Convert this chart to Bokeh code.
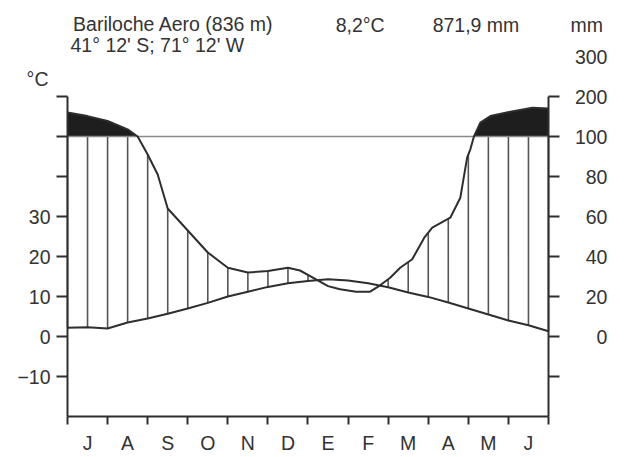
import numpy as np
from bokeh.plotting import figure
from bokeh.models import (ColumnDataSource, FixedTicker, LinearAxis, Range1d)
from bokeh.core.properties import value
from bokeh.embed import file_html
from bokeh.resources import INLINE

# ---------------- data ----------------
station = "Bariloche Aero (836 m)"
coords = "41° 12' S; 71° 12' W"
mean_temp = "8,2°C"
annual_precip = "871,9 mm"
month_labels = ["J", "A", "S", "O", "N", "D", "E", "F", "M", "A", "M", "J"]

# temperature (°C) read every half month from July 1 to June 30
temp_c = [2.2, 2.3, 2.0, 3.5, 4.5, 5.7, 7.0, 8.4, 10.0, 11.2, 12.4, 13.3,
          13.9, 14.3, 14.0, 13.3, 12.3, 11.0, 9.9, 8.5, 7.0, 5.5, 4.0, 2.8, 1.3]

# precipitation trace (mm), month position since July 1
precip_month = [0, 0.5, 1, 1.5, 1.75, 2, 2.25, 2.5, 3, 3.5, 4, 4.5, 5, 5.5,
                5.8, 6.2, 6.5, 6.8, 7.2, 7.55, 7.8, 8.05, 8.3, 8.6, 8.9, 9.1,
                9.55, 9.8, 9.97, 10.05, 10.14, 10.3, 10.55, 11.05, 11.6, 12]
precip_mm = [160, 151, 139, 118, 100, 91, 81, 64, 53, 42, 34.4, 32, 32.7, 34.4,
             33, 28.6, 25.2, 23.6, 22.4, 22.4, 25.6, 29.4, 34.4, 38.6, 49.4, 54.4,
             59.4, 69.4, 89.4, 93.6, 100, 134.5, 151, 162, 172, 170]

temp_ticks = [-10, 0, 10, 20, 30, 40, 50, 60]
temp_labels = {-10: "\u221210", 0: "0", 10: "10", 20: "20", 30: "30",
               40: "", 50: "", 60: ""}
mm_ticks = [0, 20, 40, 60, 80, 100, 200]
mm_labels = [0, 20, 40, 60, 80, 100, 200, 300]


def mm_to_axis(mm):
    mm = np.asarray(mm, dtype=float)
    return np.where(mm <= 100, mm / 2.0, 50 + (mm - 100) / 10.0)


FONT = "Liberation Sans"
FS = "19.5px"
TXT = "#333333"
LINE = "#2e2e2e"

W, H = 628, 457
# frame spans the whole canvas; axes are placed at fixed data locations
p = figure(width=W, height=H, output_backend="svg", toolbar_location=None,
           x_range=Range1d(-67 / 40.083, 12 + 80 / 40.083),
           y_range=Range1d(-30.25, 84.0),
           x_axis_type=None, y_axis_type=None,
           min_border_left=0, min_border_right=0, min_border_top=0,
           min_border_bottom=0)
p.outline_line_color = None
p.background_fill_color = "white"
p.border_fill_color = "white"

half = np.arange(len(temp_c)) / 2.0
p_axis = mm_to_axis(precip_mm)

# humid-season fill above 100 mm
p.varea(x=precip_month, y1=np.full(len(precip_month), 50.0),
        y2=np.maximum(p_axis, 50.0), fill_color="#1e1e1e")

# vertical hatching where precipitation exceeds temperature
p_at_half = np.interp(half, precip_month, p_axis)
hx, hy0, hy1 = [], [], []
for xm, t, pv in zip(half, temp_c, p_at_half):
    if pv > t:
        hx.append(xm)
        hy0.append(t)
        hy1.append(min(pv, 50.0))
p.segment(x0=hx, y0=hy0, x1=hx, y1=hy1, line_color="#555555", line_width=1.6)

# 100 mm line
p.line([0, 12], [50, 50], line_color="#8a8a8a", line_width=1.6)

p.line(precip_month, p_axis, line_color=LINE, line_width=2)
p.line(half, temp_c, line_color=LINE, line_width=2)


def style_axis(ax):
    ax.axis_line_color = LINE
    ax.major_tick_line_color = LINE
    ax.minor_tick_line_color = LINE
    ax.axis_line_width = 2
    ax.major_tick_line_width = 2
    ax.minor_tick_line_width = 2
    ax.major_tick_in = 0
    ax.minor_tick_in = 0
    ax.minor_tick_out = 0
    ax.major_label_text_font = FONT
    ax.major_label_text_font_size = FS
    ax.major_label_text_color = TXT


# left temperature axis
yl = LinearAxis(fixed_location=0, bounds=(-20, 60),
                ticker=FixedTicker(ticks=temp_ticks))
style_axis(yl)
yl.major_label_overrides = temp_labels
yl.major_tick_out = 11
yl.major_label_standoff = 6
p.add_layout(yl, "left")

# right precipitation axis (labels drawn separately, right-aligned)
r_ticks = [-10.0] + [float(v) for v in mm_to_axis(mm_ticks)]
yr = LinearAxis(fixed_location=12, bounds=(-20, 60),
                ticker=FixedTicker(ticks=r_ticks))
style_axis(yr)
yr.major_label_overrides = {t: "" for t in r_ticks}
yr.major_tick_out = 11
p.add_layout(yr, "right")

# month axis: boundaries as (minor) ticks, names at month centres
xb = LinearAxis(fixed_location=-20, bounds=(0, 12),
                ticker=FixedTicker(ticks=[i + 0.5 for i in range(12)],
                                   minor_ticks=list(range(13))))
style_axis(xb)
xb.major_tick_out = 0
xb.minor_tick_out = 8
xb.major_label_standoff = 7
xb.major_label_overrides = {i + 0.5: m for i, m in enumerate(month_labels)}
p.add_layout(xb, "below")

# right (mm) labels
rsrc = ColumnDataSource(dict(x=np.full(len(mm_labels), 13.47),
                             y=mm_to_axis(mm_labels),
                             t=[str(v) for v in mm_labels]))
p.text(x="x", y="y", text="t", source=rsrc, text_align="right",
       text_baseline="middle", text_font=value(FONT),
       text_font_size=FS, text_color=TXT)

# header texts
hsrc = ColumnDataSource(dict(
    x=[0.14, 0.075, 6.69, 9.11, 12.55, -1.02],
    y=[78.2, 72.9, 78.0, 78.0, 78.0, 64.3],
    t=[station, coords, mean_temp, annual_precip, "mm", "°C"]))
p.text(x="x", y="y", text="t", source=hsrc, text_align="left",
       text_baseline="alphabetic", text_font=value(FONT),
       text_font_size=FS, text_color=TXT)

open("out.html", "w").write(file_html(p, INLINE))
